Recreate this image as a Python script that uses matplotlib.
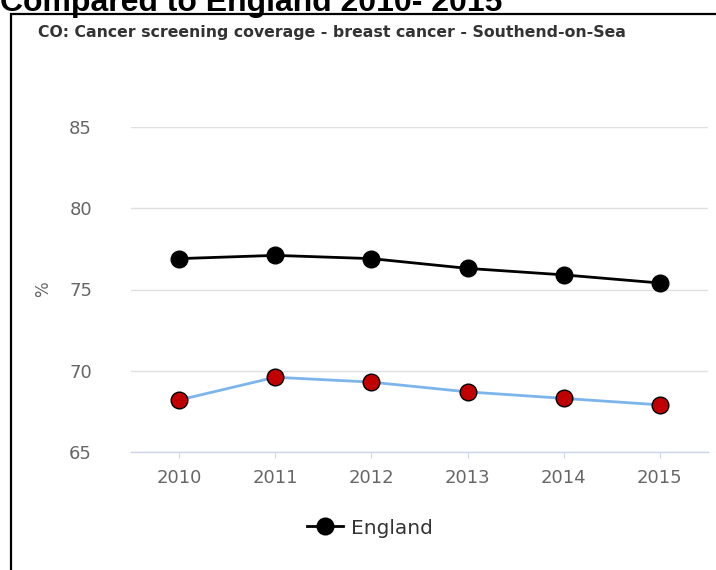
import numpy as np
import matplotlib.pyplot as plt
from matplotlib.patches import Rectangle

years = ["2010", "2011", "2012", "2013", "2014", "2015"]
england = [76.9, 77.1, 76.9, 76.3, 75.9, 75.4]
southend = [68.2, 69.6, 69.3, 68.7, 68.3, 67.9]
y_ticks = [65, 70, 75, 80, 85]

W, H = 716, 570
fig = plt.figure(figsize=(W / 100, H / 100), dpi=100)

# outer frame (cut off at right and bottom)
fig.patches.append(Rectangle((11 / W, -0.05), 1.0, 1 - 14 / H + 0.05,
                             transform=fig.transFigure, fill=False,
                             edgecolor="black", linewidth=1.6))

# heading, top half cropped off
fig.text(0.0, 1 - 11 / H, "Compared to England 2010- 2015", family="Liberation Sans",
         fontweight="bold", fontsize=23, color="black", va="baseline", ha="left")

fig.text(38 / W, 1 - 33 / H, "CO: Cancer screening coverage - breast cancer - Southend-on-Sea",
         fontsize=11.3, color="#333333", va="center", ha="left", fontweight="bold")

ax = fig.add_axes([131 / W, 1 - 452 / H, (708 - 131) / W, (452 - 127) / H])
x = np.arange(len(years))

ax.plot(x, england, color="black", linewidth=2, marker="o", markersize=12,
        markerfacecolor="black", markeredgecolor="black", label="England", zorder=3)
ax.plot(x, southend, color="#7cb5ec", linewidth=2, marker="o", markersize=12,
        markerfacecolor="#c00000", markeredgecolor="black", markeredgewidth=1, zorder=3)

ax.set_xlim(-0.5, len(years) - 0.5)
ax.set_ylim(65, 85)
ax.set_xticks(x)
ax.set_xticklabels(years)
ax.set_yticks(y_ticks)
ax.grid(axis="y", color="#e0e0e0", linewidth=1)
ax.set_axisbelow(True)
for s in ["top", "right", "left"]:
    ax.spines[s].set_visible(False)
ax.spines["bottom"].set_color("#ccd6eb")
ax.spines["bottom"].set_linewidth(1)
ax.tick_params(axis="x", colors="#666666", labelsize=13, length=4, color="#ccd6eb", pad=8)
ax.tick_params(axis="y", colors="#666666", labelsize=13, length=0, pad=28)
ax.set_ylabel("%", color="#666666", fontsize=12, labelpad=12)

fig.legend(handles=[ax.lines[0]], loc="center", bbox_to_anchor=(370 / W, 1 - 528 / H),
           frameon=False, fontsize=14.5, labelcolor="#333333", handlelength=1.8,
           handletextpad=0.4, markerscale=1.0)

fig.savefig("out.png", dpi=100)
